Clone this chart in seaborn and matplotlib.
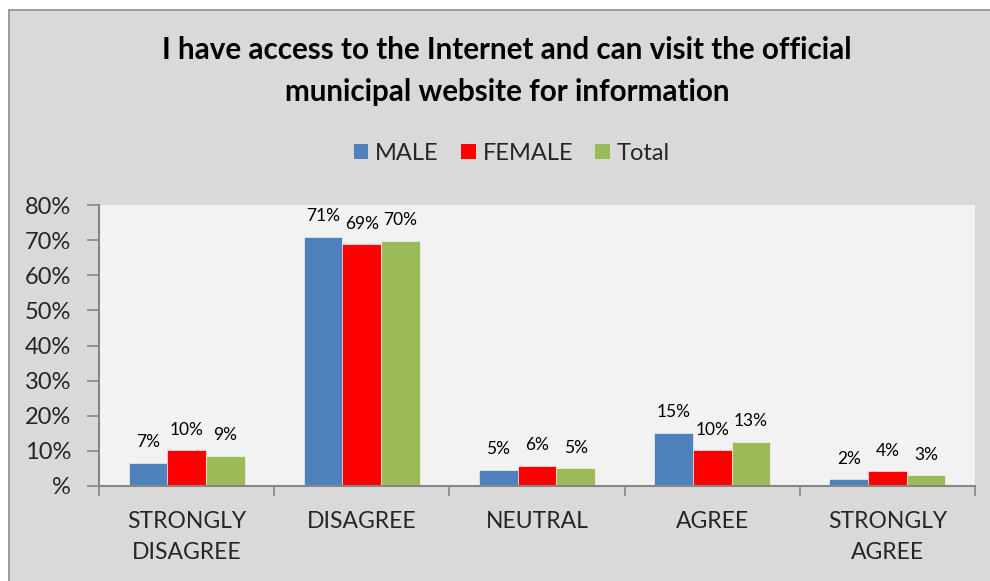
import matplotlib
matplotlib.use("Agg")
import matplotlib.pyplot as plt
from matplotlib.patches import Rectangle, Patch
import seaborn as sns
import pandas as pd

# Survey responses (percent of respondents)
categories = ["STRONGLY\nDISAGREE", "DISAGREE", "NEUTRAL", "AGREE", "STRONGLY\nAGREE"]
groups = ["MALE", "FEMALE", "Total"]
male = [6.6, 71.0, 4.6, 15.2, 1.9]
female = [10.2, 68.8, 5.7, 10.2, 4.2]
total = [8.6, 69.8, 5.1, 12.6, 3.0]
y_ticks = [0, 10, 20, 30, 40, 50, 60, 70, 80]

colors = {"MALE": "#4F81BD", "FEMALE": "#FF0000", "Total": "#9BBB59"}

df = pd.DataFrame({
    "category": categories * 3,
    "group": [g for g in groups for _ in categories],
    "value": male + female + total,
})

sns.set_theme(style="white")
plt.rcParams["font.family"] = ["Lato", "DejaVu Sans"]

W, H = 990, 581
fig = plt.figure(figsize=(W / 100, H / 100), dpi=100)
fig.patch.set_facecolor("white")
fig.patches.append(Rectangle((9 / W, -0.1), 1.2, 1 - 10 / H + 0.1,
                             transform=fig.transFigure, facecolor="#D9D9D9",
                             edgecolor="#8C8C8C", linewidth=1.2, zorder=-10))

ax = fig.add_axes([99 / W, 1 - 486 / H, (975 - 99) / W, (486 - 205) / H])
ax.set_facecolor("#F2F2F2")

sns.barplot(data=df, x="category", y="value", hue="group", order=categories,
            hue_order=groups, palette=colors, saturation=1, width=0.663,
            edgecolor="#FFFFFF", linewidth=0.4, ax=ax, legend=False)

for cont, vals in zip(ax.containers, [male, female, total]):
    ax.bar_label(cont, labels=[f"{round(v)}%" for v in vals], padding=9,
                 fontsize=12.5, color="#000000")

ax.set_ylim(0, 80)
ax.set_yticks(y_ticks)
ax.set_yticklabels(["%" if t == 0 else f"{t}%" for t in y_ticks])
ax.set_xlim(-0.5, len(categories) - 0.5)

# category boundaries carry the tick marks; labels sit at the centres
ax.set_xticks([i - 0.5 for i in range(len(categories) + 1)])
ax.set_xticklabels([])
ax.set_xticks(range(len(categories)), minor=True)
ax.set_xticklabels(categories, minor=True, fontsize=16.5, linespacing=1.6)
ax.tick_params(axis="x", which="major", direction="out", length=7, width=1.2,
               color="#868686", bottom=True)
ax.tick_params(axis="x", which="minor", length=0, pad=18)
ax.tick_params(axis="y", direction="out", length=9, width=1.2, color="#868686",
               left=True, pad=11, labelsize=17)
ax.set_xlabel("")
ax.set_ylabel("")

for side in ["top", "right"]:
    ax.spines[side].set_visible(False)
for side in ["left", "bottom"]:
    ax.spines[side].set_color("#868686")
    ax.spines[side].set_linewidth(1.5)

fig.text(0.512, 1 - 71 / H,
         "I have access to the Internet and can visit the official\nmunicipal website for information",
         ha="center", va="center", fontsize=21.3, fontweight="bold",
         linespacing=1.6, color="#000000")

handles = [Patch(facecolor=colors[g], edgecolor="none", label=g) for g in groups]
fig.legend(handles=handles, loc="center", bbox_to_anchor=(0.517, 1 - 153 / H),
           ncol=3, frameon=False, fontsize=17, handlelength=0.62,
           handleheight=0.62, handletextpad=0.28, columnspacing=0.95)

fig.savefig("out.png", dpi=100, facecolor=fig.get_facecolor())
